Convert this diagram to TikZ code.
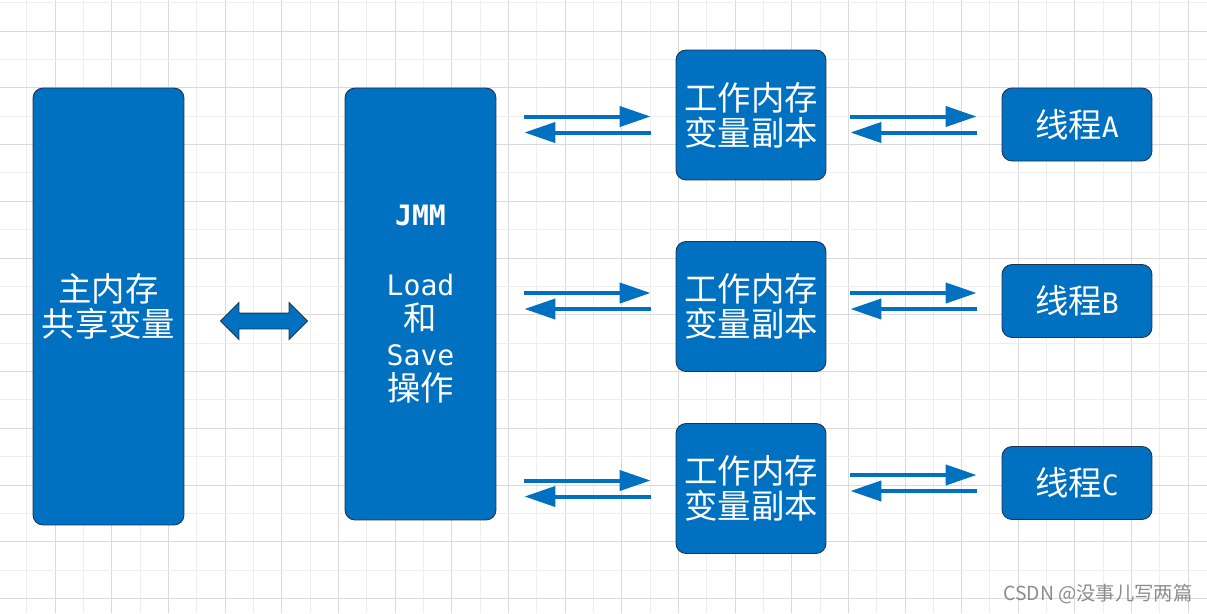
\documentclass[tikz,border=0pt]{standalone}
\usepackage{fontspec}
\setmainfont{Noto Sans CJK SC}
\setmonofont{DejaVu Sans Mono}
\usetikzlibrary{arrows.meta,calc,shapes.arrows}
\definecolor{boxblue}{HTML}{0070C0}
\definecolor{boxline}{HTML}{1F3350}
\definecolor{gridminor}{HTML}{EEEEEE}
\definecolor{gridmajor}{HTML}{DADADA}
\newcommand{\boxFont}{\fontsize{19pt}{20pt}\selectfont}
\newcommand{\latFont}{\ttfamily\fontsize{16pt}{20pt}\selectfont}

\begin{document}
\begin{tikzpicture}[x=0.02cm, y=-0.02cm,
	box/.style={draw=boxline, line width=0.5pt, fill=boxblue, rounded corners=0.2cm, text=white, align=center, font=\boxFont, inner sep=0pt},
	flow/.style={draw=boxblue, line width=0.08cm, -{Triangle[length=0.62cm,width=0.4cm]}}]
	\useasboundingbox (0,0) rectangle (1207,613);
	\fill[white] (0,0) rectangle (1207,613);
	% grid
	\foreach \k in {0,2,...,42}
		\draw[gridminor, line width=0.5pt] (26.7+28.33*\k,0) -- (26.7+28.33*\k,613);
	\foreach \k in {1,3,...,41}
		\draw[gridmajor, line width=0.5pt] (26.7+28.33*\k,0) -- (26.7+28.33*\k,613);
	\foreach \k in {0,2,...,20}
		\draw[gridminor, line width=0.5pt] (0,2.7+28.37*\k) -- (1207,2.7+28.37*\k);
	\foreach \k in {1,3,...,21}
		\draw[gridmajor, line width=0.5pt] (0,2.7+28.37*\k) -- (1207,2.7+28.37*\k);

	\node[box, minimum width=3.02cm, minimum height=8.74cm] (main) at (108.5,306.5) {主内存\\共享变量};
	\node[box, minimum width=3.02cm, minimum height=8.64cm] (jmm) at (420.5,304)
		{{\latFont\bfseries JMM}\\[20pt]{\latFont Load}\\和\\{\latFont Save}\\操作};
	\node[box, minimum width=3cm, minimum height=2.6cm] (w1) at (751,115) {工作内存\\变量副本};
	\node[box, minimum width=3cm, minimum height=2.6cm] (w2) at (751,306.5) {工作内存\\变量副本};
	\node[box, minimum width=3cm, minimum height=2.6cm] (w3) at (751,488.5) {工作内存\\变量副本};
	\node[box, minimum width=3cm, minimum height=1.46cm] (tA) at (1077,124.5) {线程{\latFont A}};
	\node[box, minimum width=3cm, minimum height=1.46cm] (tB) at (1077,301) {线程{\latFont B}};
	\node[box, minimum width=3cm, minimum height=1.46cm] (tC) at (1077,483) {线程{\latFont C}};

	\node[double arrow, draw=boxline, fill=boxblue, line width=0.5pt, minimum height=1.74cm,
		double arrow head extend=0.21cm, inner xsep=0pt, inner ysep=0.15cm] (link) at (264,321) {};

	% jmm <-> working copies
	\foreach \w/\r in {w1/tA, w2/tB, w3/w3} {
		\draw[flow] ($(jmm.east |- \r)+(28,-8)$) -- ($(\w.west |- \r)+(-25,-8)$);
		\draw[flow] ($(\w.west |- \r)+(-25,8)$) -- ($(jmm.east |- \r)+(28,8)$);
	}
	% working copies <-> threads
	\foreach \w/\t in {w1/tA, w2/tB, w3/tC} {
		\draw[flow] ($(\w.east |- \t)+(24,-8)$) -- ($(\t.west)+(-25,-8)$);
		\draw[flow] ($(\t.west)+(-25,8)$) -- ($(\w.east |- \t)+(24,8)$);
	}

	\node[text=black!45, font=\fontsize{11pt}{12pt}\selectfont] (mark) at (1098,594) {CSDN @没事儿写两篇};
\end{tikzpicture}
\end{document}
